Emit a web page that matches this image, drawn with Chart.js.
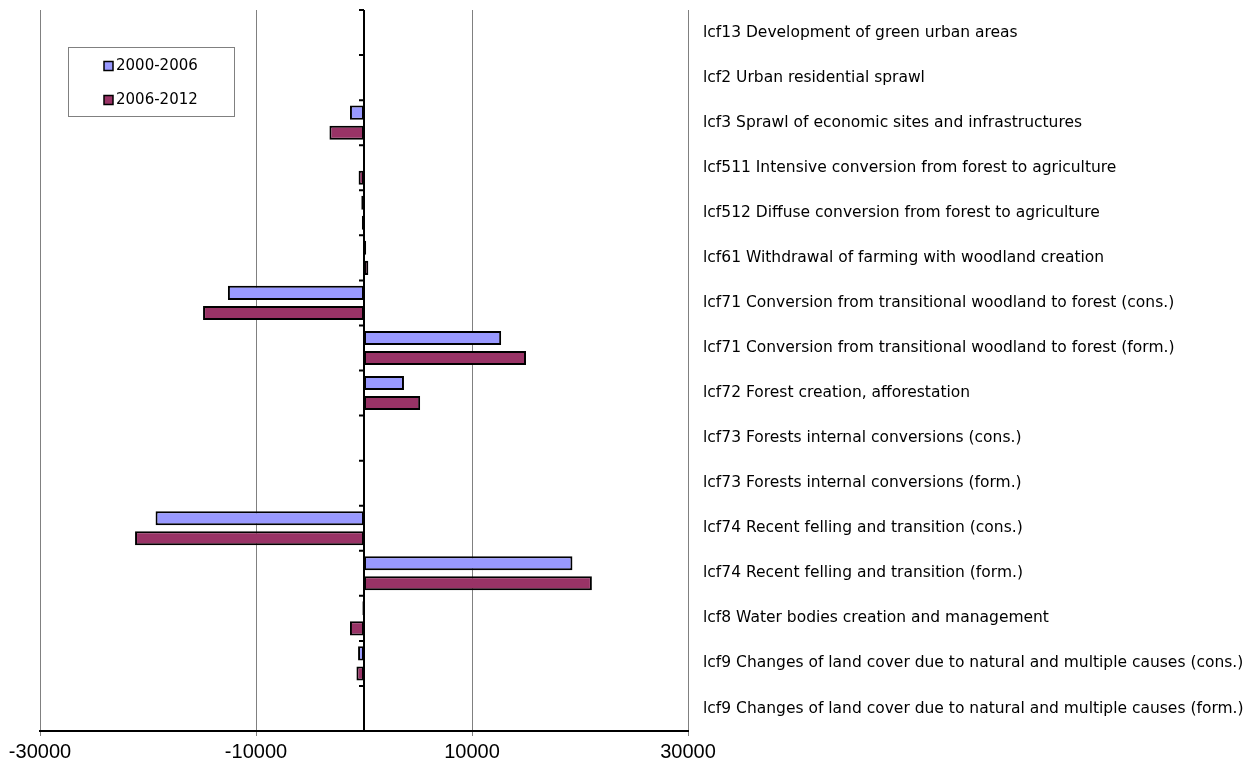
<!DOCTYPE html>
<html lang="en">
<head>
    <meta charset="UTF-8">
    <title>Land cover flows</title>
    <script src="https://cdn.jsdelivr.net/npm/chart.js"></script>
    <style>
        body { margin: 0; background: #fff; }
        #wrap { width: 1257px; height: 767px; }
    </style>
</head>
<body>
    <div id="wrap"><canvas id="flowChart" width="1257" height="767"></canvas></div>

    <script>
        const categories = [
            'lcf13 Development of green urban areas',
            'lcf2 Urban residential sprawl',
            'lcf3 Sprawl of economic sites and infrastructures',
            'lcf511 Intensive conversion from forest to agriculture',
            'lcf512 Diffuse conversion from forest to agriculture',
            'lcf61 Withdrawal of farming with woodland creation',
            'lcf71 Conversion from transitional woodland to forest (cons.)',
            'lcf71 Conversion from transitional woodland to forest (form.)',
            'lcf72 Forest creation, afforestation',
            'lcf73 Forests internal conversions (cons.)',
            'lcf73 Forests internal conversions (form.)',
            'lcf74 Recent felling and transition (cons.)',
            'lcf74 Recent felling and transition (form.)',
            'lcf8 Water bodies creation and management',
            'lcf9 Changes of land cover due to natural and multiple causes (cons.)',
            'lcf9 Changes of land cover due to natural and multiple causes (form.)'
        ];
        const values2000_2006 = [20, 20, -1300, -60, -250, 200, -12600, 12700, 3700, 10, 10, -19300, 19300, -150, -550, 10];
        const values2006_2012 = [20, 40, -3200, -500, -200, 400, -14900, 15000, 5200, 10, 10, -21200, 21100, -1300, -700, 10];
        const xTicks = [-30000, -10000, 10000, 30000];

        // zero line with small ticks at category boundaries
        const zeroAxis = {
            id: 'zeroAxis',
            beforeDatasetsDraw(chart) {
                const ctx = chart.ctx;
                const x = chart.scales.x.getPixelForValue(0);
                const area = chart.chartArea;
                const band = (area.bottom - area.top) / categories.length;
                ctx.save();
                ctx.strokeStyle = '#000';
                ctx.lineWidth = 2;
                ctx.beginPath();
                ctx.moveTo(x, area.top);
                ctx.lineTo(x, area.bottom);
                for (let i = 0; i < categories.length; i++) {
                    const y = area.top + i * band;
                    ctx.moveTo(x - 5, y);
                    ctx.lineTo(x, y);
                }
                ctx.stroke();
                ctx.restore();
            }
        };

        // legend in a box inside the plot
        const boxLegend = {
            id: 'boxLegend',
            afterDraw(chart) {
                const ctx = chart.ctx;
                ctx.save();
                ctx.fillStyle = '#fff';
                ctx.fillRect(68, 47, 166, 69);
                ctx.strokeStyle = '#808080';
                ctx.lineWidth = 1;
                ctx.strokeRect(68.5, 47.5, 166, 69);
                ctx.font = '15px "DejaVu Sans"';
                ctx.textBaseline = 'middle';
                chart.data.datasets.forEach((ds, i) => {
                    const y = 66 + i * 34;
                    ctx.fillStyle = ds.backgroundColor;
                    ctx.fillRect(104, y - 4.5, 9, 9);
                    ctx.strokeStyle = '#000';
                    ctx.lineWidth = 1.5;
                    ctx.strokeRect(104, y - 4.5, 9, 9);
                    ctx.fillStyle = '#000';
                    ctx.fillText(ds.label, 116, y);
                });
                ctx.restore();
            }
        };

        const ctx = document.getElementById('flowChart').getContext('2d');
        new Chart(ctx, {
            type: 'bar',
            data: {
                labels: categories,
                datasets: [{
                    label: '2000-2006',
                    data: values2000_2006,
                    backgroundColor: '#9999FF',
                    borderColor: '#000',
                    borderWidth: 2,
                    borderSkipped: false
                }, {
                    label: '2006-2012',
                    data: values2006_2012,
                    backgroundColor: '#993366',
                    borderColor: '#000',
                    borderWidth: 2,
                    borderSkipped: false
                }]
            },
            options: {
                indexAxis: 'y',
                responsive: false,
                animation: false,
                layout: { padding: { left: 40, top: 10, right: 0, bottom: 0 } },
                datasets: { bar: { categoryPercentage: 0.89, barPercentage: 0.7 } },
                plugins: {
                    legend: { display: false },
                    tooltip: { enabled: false }
                },
                scales: {
                    x: {
                        min: -30000,
                        max: 30000,
                        afterBuildTicks(scale) {
                            scale.ticks = xTicks.map(v => ({ value: v }));
                        },
                        afterFit(scale) {
                            scale.height = 36;
                            scale.paddingLeft = 0;
                            scale.paddingRight = 0;
                        },
                        grid: { color: '#808080', lineWidth: 1, tickLength: 5 },
                        border: { color: '#000', width: 2 },
                        ticks: {
                            color: '#000',
                            font: { family: '"Liberation Sans", Arial', size: 20 },
                            padding: 4,
                            maxRotation: 0,
                            callback: v => String(v)
                        }
                    },
                    y: {
                        position: 'right',
                        afterFit(scale) {
                            scale.width = 569;
                            scale.paddingTop = 0;
                            scale.paddingBottom = 0;
                        },
                        grid: { display: false },
                        border: { display: false },
                        ticks: {
                            color: '#000',
                            font: { family: '"DejaVu Sans"', size: 15.5 },
                            padding: 7
                        }
                    }
                }
            },
            plugins: [zeroAxis, boxLegend]
        });
    </script>
</body>
</html>
